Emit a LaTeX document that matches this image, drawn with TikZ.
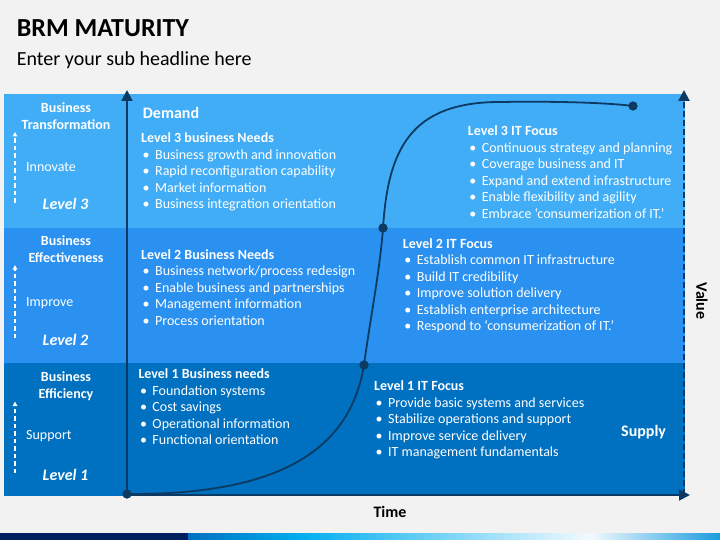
\documentclass[tikz,border=0pt]{standalone}
\usepackage{fontspec}
\setmainfont{Carlito}
\usetikzlibrary{arrows.meta,calc}
\definecolor{bg}{HTML}{F2F2F2}
\definecolor{bandA}{HTML}{42ADF7}
\definecolor{bandB}{HTML}{2B91F0}
\definecolor{bandC}{HTML}{0070C0}
\definecolor{axis}{HTML}{0C3A62}
\definecolor{navy}{HTML}{002060}
\definecolor{cyanb}{HTML}{00AEEF}
\definecolor{paleb}{HTML}{F3FAFE}
\definecolor{endb}{HTML}{1A9CDF}
\newcommand\blist[5]{%
  \node[hd] (#1) at (#2,#3) {#4};
  \foreach \itm [count=\i] in {#5}{
    \node[txt] (#1-\i) at ($(#1.base west)+(1.5,\i*16.5)$) {\makebox[12.5pt][l]{\textbullet}\itm};
  }
}
\begin{document}
\begin{tikzpicture}[x=1pt,y=-1pt,
  txt/.style={inner sep=0pt, anchor=base west, text=white, font=\fontsize{14}{16.5}\selectfont},
  hd/.style={txt, font=\fontsize{14}{16.5}\selectfont\bfseries},
  big/.style={txt, font=\fontsize{16}{18}\selectfont\bfseries},
  lab/.style={inner sep=0pt, anchor=base, text=white, font=\fontsize{14}{16}\selectfont\bfseries},
  act/.style={inner sep=0pt, anchor=base west, text=white, font=\fontsize{14}{16}\selectfont},
  lvl/.style={inner sep=0pt, anchor=base, text=white, font=\fontsize{16}{18}\selectfont\bfseries\itshape},
  axl/.style={inner sep=0pt, anchor=base, text=black, font=\fontsize{16}{18}\selectfont\bfseries},
  dot/.style={circle, fill=axis, inner sep=0pt, minimum size=9pt},
  axisline/.style={draw=axis, line width=2pt, -{Triangle[length=11pt,width=11pt]}},
  up/.style={draw=white, line width=1.6pt, dash pattern=on 4.5pt off 3pt, -{Triangle[length=4.5pt,width=4.5pt]}}
]
\useasboundingbox (0,0) rectangle (720,540);
\fill[bg] (0,0) rectangle (720,540);
% title
\node[inner sep=0pt, anchor=base west, font=\fontsize{26}{28}\selectfont\bfseries] (title) at (16.7,36.7) {BRM MATURITY};
\node[inner sep=0pt, anchor=base west, font=\fontsize{20}{24}\selectfont] (sub) at (16.7,65.7) {Enter your sub headline here};
% bands
\fill[bandA] (4,94.3) rectangle (685,228);
\fill[bandB] (4,228) rectangle (685,363);
\fill[bandC] (4,363) rectangle (685,496);
% bottom strip
\fill[navy] (0,533) rectangle (188,540);
\shade[left color=bandC, right color=cyanb] (188,533) rectangle (300,540);
\shade[left color=cyanb, right color=paleb] (300,533) rectangle (590,540);
\shade[left color=paleb, right color=endb] (590,533) rectangle (720,540);
% left column
\node[lab] (bt1) at (66,112.3) {Business};
\node[lab] (bt2) at (66,129.3) {Transformation};
\node[act] (inn) at (26,171.5) {Innovate};
\node[lvl] (l3) at (65.5,210) {Level 3};
\node[lab] (be1) at (66,245) {Business};
\node[lab] (be2) at (66,262.3) {Effectiveness};
\node[act] (imp) at (26,306) {Improve};
\node[lvl] (l2) at (65.5,345) {Level 2};
\node[lab] (bf1) at (66,381) {Business};
\node[lab] (bf2) at (66,398.3) {Efficiency};
\node[act] (sup) at (26,439.5) {Support};
\node[lvl] (l1) at (65.5,480) {Level 1};
\coordinate (a3s) at (15,203); \coordinate (a3e) at (15,132);
\coordinate (a2s) at (15,338); \coordinate (a2e) at (15,265);
\coordinate (a1s) at (15,473); \coordinate (a1e) at (15,401.5);
\draw[up] (a3s) -- (a3e);
\draw[up] (a2s) -- (a2e);
\draw[up] (a1s) -- (a1e);
% axes
\coordinate (O) at (127,495);
\coordinate (ytop) at (127,90);
\coordinate (xend) at (690,495);
\coordinate (vbot) at (684,495);
\coordinate (vtop) at (684,90);
\draw[axisline] (O) -- (ytop);
\draw[axisline] (O) -- (xend);
\draw[draw=axis, line width=2.2pt, dash pattern=on 6pt off 3pt, -{Triangle[length=11pt,width=11pt]}] (vbot) -- (vtop);
% curve
\node[dot] (d0) at (127,494) {};
\node[dot] (d1) at (364,365) {};
\node[dot] (d2) at (383,228) {};
\node[dot] (d3) at (633,106) {};
\coordinate (c3) at (500,102);
\draw[axis, line width=1.8pt] (d0.center) .. controls (280,495) and (350,450) .. (d1.center)
  .. controls (370,320) and (380,270) .. (d2.center)
  .. controls (388,150) and (410,102) .. (c3)
  .. controls (560,101) and (610,103) .. (d3.center);
\node[dot] at (d0) {};
\node[dot] at (d1) {};
\node[dot] at (d2) {};
\node[dot] at (d3) {};
% texts
\node[big] (demand) at (142.7,119) {Demand};
\blist{n3}{141}{143}{Level 3 business Needs}{Business growth and innovation,Rapid reconfiguration capability,Market information,Business integration orientation}
\blist{n2}{141}{259}{Level 2 Business Needs}{Business network/process redesign,Enable business and partnerships,Management information,Process orientation}
\blist{n1}{138.3}{378.5}{Level 1 Business needs}{Foundation systems,Cost savings,Operational information,Functional orientation}
\blist{f3}{467.7}{135.7}{Level 3 IT Focus}{Continuous strategy and planning,Coverage business and IT,Expand and extend infrastructure,Enable flexibility and agility,Embrace ‘consumerization of IT.’}
\blist{f2}{402.7}{248}{Level 2 IT Focus}{Establish common IT infrastructure,Build IT credibility,Improve solution delivery,Establish enterprise architecture,Respond to ‘consumerization of IT.’}
\blist{f1}{374}{390.7}{Level 1 IT Focus}{Provide basic systems and services,Stabilize operations and support,Improve service delivery,IT management fundamentals}
\node[big] (supply) at (621,436) {Supply};
\node[axl, anchor=center, rotate=-90] (value) at (702,301) {Value};
\node[axl] (time) at (390,517) {Time};
\end{tikzpicture}
\end{document}
